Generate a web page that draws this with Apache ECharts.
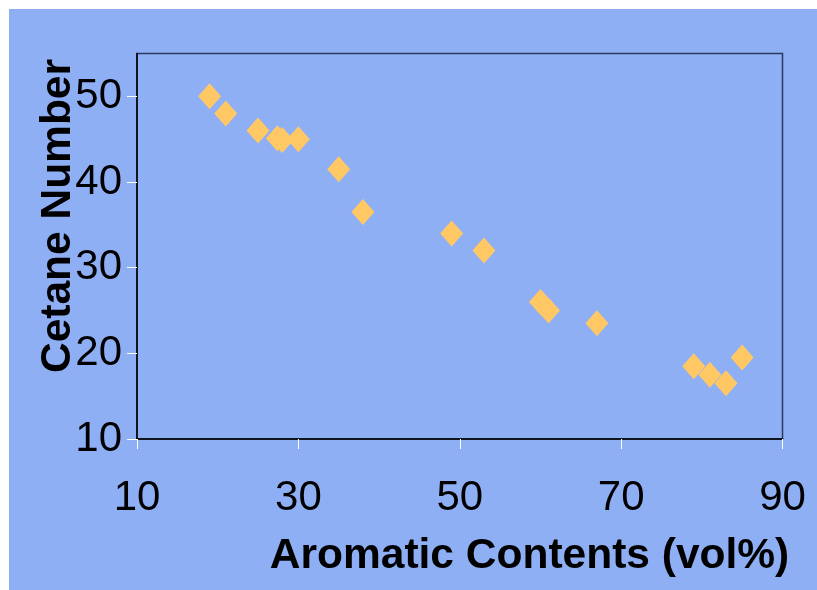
<!DOCTYPE html>
<html>
<head>
<meta charset="utf-8">
<script src="https://cdn.jsdelivr.net/npm/echarts@6/dist/echarts.min.js"></script>
<style>
html,body{margin:0;padding:0;background:#fff;}
#c{width:817px;height:590px;}
</style>
</head>
<body>
<div id="c"></div>
<script>
const aromatic = [19, 21, 25, 27.4, 28, 30, 35, 38, 49, 53, 60, 61, 67, 79, 81, 83, 85];
const cetane   = [50, 48, 46, 45.1, 44.9, 45, 41.5, 36.5, 34, 32, 26, 25, 23.5, 18.5, 17.5, 16.5, 19.5];
const xTicks = [10, 30, 50, 70, 90];
const yTicks = [10, 20, 30, 40, 50];
const xTitle = 'Aromatic Contents (vol%)';
const yTitle = 'Cetane Number';

const points = aromatic.map((x, i) => [x, cetane[i]]);
const chart = echarts.init(document.getElementById('c'), null, {renderer: 'canvas'});
const font = 'Liberation Sans, Arial, sans-serif';
chart.setOption({
  animation: false,
  backgroundColor: 'transparent',
  graphic: [
    {type: 'rect', shape: {x: 9, y: 9, width: 808, height: 581}, style: {fill: '#8FAFF5'}, z: -10, silent: true},
    {type: 'text', x: 58, y: 216, rotation: Math.PI / 2,
     style: {text: yTitle, font: 'bold 42.5px ' + font, fill: '#000', align: 'center', verticalAlign: 'middle'}},
    {type: 'text', x: 529.5, y: 556,
     style: {text: xTitle, font: 'bold 42.5px ' + font, fill: '#000', align: 'center', verticalAlign: 'middle'}}
  ],
  grid: {left: 137, right: 34.5, top: 53.5, bottom: 151, show: true, borderColor: '#2b3a5c', borderWidth: 1.5, backgroundColor: 'transparent'},
  xAxis: {
    type: 'value', min: 10, max: 90, interval: 20,
    splitLine: {show: false},
    axisLine: {show: true, onZero: false, lineStyle: {color: '#000', width: 1.5}},
    axisTick: {show: true, inside: false, length: 10, lineStyle: {color: '#fff', width: 1}, customValues: xTicks},
    axisLabel: {color: '#000', fontSize: 42, fontFamily: font, margin: 38, customValues: xTicks}
  },
  yAxis: {
    type: 'value', min: 10, max: 55, interval: 10,
    splitLine: {show: false},
    axisLine: {show: true, onZero: false, lineStyle: {color: '#000', width: 1.5}},
    axisTick: {show: true, inside: false, length: 10, lineStyle: {color: '#fff', width: 1}, customValues: yTicks},
    axisLabel: {color: '#000', fontSize: 42, fontFamily: font, margin: 15, customValues: yTicks}
  },
  series: [{
    type: 'scatter',
    data: points,
    symbol: 'diamond',
    symbolSize: [23, 26],
    itemStyle: {color: '#FFC864', opacity: 1}
  }]
});
</script>
</body>
</html>
